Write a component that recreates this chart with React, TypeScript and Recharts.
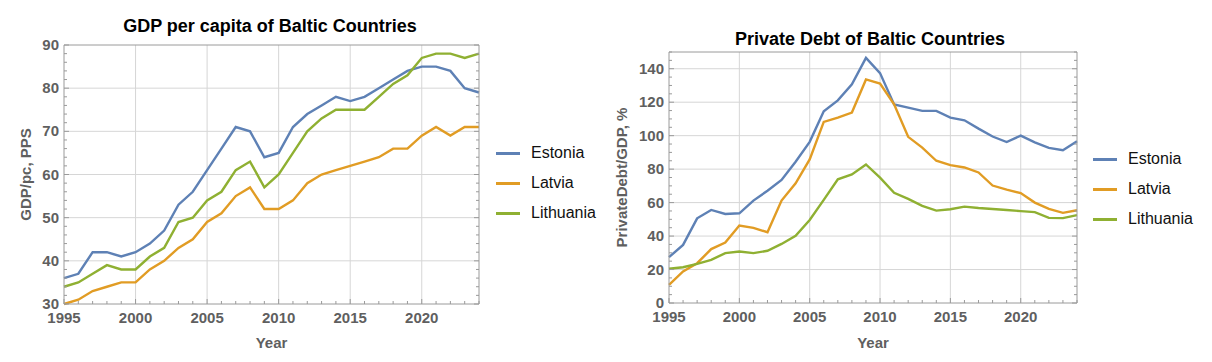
import React from 'react'
import { LineChart, Line, XAxis, YAxis, ReferenceLine, Legend } from 'recharts'

const years = [1995, 1996, 1997, 1998, 1999, 2000, 2001, 2002, 2003, 2004, 2005, 2006, 2007, 2008, 2009, 2010, 2011, 2012, 2013, 2014, 2015, 2016, 2017, 2018, 2019, 2020, 2021, 2022, 2023, 2024]
const xMajor = [1995, 2000, 2005, 2010, 2015, 2020]

// GDP per capita, PPS (EU = 100)
const gdpEstonia = [36, 37, 42, 42, 41, 42, 44, 47, 53, 56, 61, 66, 71, 70, 64, 65, 71, 74, 76, 78, 77, 78, 80, 82, 84, 85, 85, 84, 80, 79]
const gdpLatvia = [30, 31, 33, 34, 35, 35, 38, 40, 43, 45, 49, 51, 55, 57, 52, 52, 54, 58, 60, 61, 62, 63, 64, 66, 66, 69, 71, 69, 71, 71]
const gdpLithuania = [34, 35, 37, 39, 38, 38, 41, 43, 49, 50, 54, 56, 61, 63, 57, 60, 65, 70, 73, 75, 75, 75, 78, 81, 83, 87, 88, 88, 87, 88]
const gdpMajorY = [30, 40, 50, 60, 70, 80, 90]
const gdpMinorY = [30, 32, 34, 36, 38, 40, 42, 44, 46, 48, 50, 52, 54, 56, 58, 60, 62, 64, 66, 68, 70, 72, 74, 76, 78, 80, 82, 84, 86, 88, 90]

// Private debt, % of GDP
const debtEstonia = [27.4, 34.7, 50.6, 55.6, 53.2, 53.6, 61.2, 67.1, 73.5, 84.4, 96.3, 114.6, 121.1, 130.7, 146.5, 137.4, 118.7, 116.8, 114.8, 114.8, 110.8, 109.2, 104.2, 99.5, 96.2, 100, 96, 92.7, 91.3, 96.6]
const debtLatvia = [10.9, 18.9, 23.8, 32.2, 36.1, 46.3, 44.9, 42.3, 61.2, 71.5, 85.8, 108.2, 110.8, 113.8, 133.6, 131.1, 118.7, 99.3, 92.9, 85, 82.4, 81, 78, 70.2, 67.7, 65.7, 60, 56.2, 53.9, 55.4]
const debtLithuania = [20.5, 21.4, 23.4, 25.8, 29.8, 30.8, 29.8, 31.2, 35.3, 40.1, 49.6, 61.6, 73.9, 76.8, 82.8, 74.9, 65.9, 62.2, 58, 55.2, 56, 57.6, 56.8, 56.2, 55.6, 54.9, 54.3, 50.9, 50.7, 52.5]
const debtMajorY = [0, 20, 40, 60, 80, 100, 120, 140]
const debtMinorY = [0, 5, 10, 15, 20, 25, 30, 35, 40, 45, 50, 55, 60, 65, 70, 75, 80, 85, 90, 95, 100, 105, 110, 115, 120, 125, 130, 135, 140, 145, 150]

const COLORS = { Estonia: '#5E81B5', Latvia: '#E19C24', Lithuania: '#8FB032' }
const FRAME = '#9a9a9a'
const GRID = '#d6d6d6'
const LABEL = '#5f5f5f'
const FONT = '"Liberation Sans", Arial, Helvetica, sans-serif'

const gdpData = years.map((year, i) => ({
  year,
  Estonia: gdpEstonia[i],
  Latvia: gdpLatvia[i],
  Lithuania: gdpLithuania[i],
}))

const debtData = years.map((year, i) => ({
  year,
  Estonia: debtEstonia[i],
  Latvia: debtLatvia[i],
  Lithuania: debtLithuania[i],
}))

const tickText = { fill: LABEL, fontSize: 15, fontWeight: 700, fontFamily: FONT }

// frame ticks point inward, majors longer than minors
const makeTick = (side: string, majors: number[], showLabel: boolean) => (props: any) => {
  const { x, y, payload } = props
  const v = payload.value
  const len = majors.includes(v) ? 5 : 3
  let line = null
  let label = null
  if (side === 'bottom') {
    line = <line x1={x} x2={x} y1={y} y2={y - len} stroke={FRAME} />
    if (showLabel && majors.includes(v)) label = <text x={x} y={y + 19} textAnchor="middle" {...tickText}>{v}</text>
  } else if (side === 'top') {
    line = <line x1={x} x2={x} y1={y} y2={y + len} stroke={FRAME} />
  } else if (side === 'left') {
    line = <line x1={x} x2={x + len} y1={y} y2={y} stroke={FRAME} />
    if (showLabel && majors.includes(v)) label = <text x={x - 5} y={y + 5} textAnchor="end" {...tickText}>{v}</text>
  } else {
    line = <line x1={x} x2={x - len} y1={y} y2={y} stroke={FRAME} />
  }
  return <g>{line}{label}</g>
}

const renderLegend = (props: any) => {
  const { payload } = props
  return (
    <div style={{ fontFamily: FONT, fontSize: 16, color: '#111' }}>
      {payload.map((item: any) => (
        <div key={item.value} style={{ height: 30, display: 'flex', alignItems: 'center' }}>
          <div style={{ width: 24, height: 3, background: item.color, marginRight: 11 }} />
          <span>{item.value}</span>
        </div>
      ))}
    </div>
  )
}

interface PanelProps {
  data: any[]
  title: string
  titleTop: number
  yLabel: string
  yDomain: [number, number]
  yMajor: number[]
  yMinor: number[]
  margin: { top: number; right: number; bottom: number; left: number }
  yLabelDx: number
  yearOffset: number
  legendLeft: number
  legendTop: number
}

function Panel(p: PanelProps) {
  return (
    <div style={{ position: 'relative', width: 606, height: 362 }}>
      <div
        style={{
          position: 'absolute',
          left: 270,
          top: p.titleTop,
          transform: 'translateX(-50%)',
          whiteSpace: 'nowrap',
          fontFamily: FONT,
          fontWeight: 700,
          fontSize: 18,
          lineHeight: '18px',
          color: '#000',
        }}
      >
        {p.title}
      </div>
      <LineChart width={606} height={362} data={p.data} margin={p.margin}>
        <XAxis
          dataKey="year"
          type="number"
          domain={[1995, 2024]}
          ticks={years}
          interval={0}
          tickSize={0}
          tickMargin={0}
          tick={makeTick('bottom', xMajor, true)}
          stroke={FRAME}
          height={50}
          label={{ value: 'Year', position: 'insideBottom', offset: p.yearOffset, fill: LABEL, fontSize: 15, fontWeight: 700, fontFamily: FONT }}
        />
        <XAxis
          xAxisId="top"
          orientation="top"
          type="number"
          domain={[1995, 2024]}
          allowDataOverflow
          ticks={years}
          interval={0}
          tickSize={0}
          tickMargin={0}
          tick={makeTick('top', xMajor, false)}
          stroke={FRAME}
          height={1}
        />
        <YAxis
          type="number"
          domain={p.yDomain}
          ticks={p.yMinor}
          interval={0}
          tickSize={0}
          tickMargin={0}
          tick={makeTick('left', p.yMajor, true)}
          stroke={FRAME}
          width={56}
          label={{ value: p.yLabel, angle: -90, position: 'center', dx: p.yLabelDx, fill: LABEL, fontSize: 15, fontWeight: 700, fontFamily: FONT }}
        />
        <YAxis
          yAxisId="right"
          orientation="right"
          type="number"
          domain={p.yDomain}
          allowDataOverflow
          ticks={p.yMinor}
          interval={0}
          tickSize={0}
          tickMargin={0}
          tick={makeTick('right', p.yMajor, false)}
          stroke={FRAME}
          width={1}
        />
        {xMajor.filter((v) => v > 1995).map((v) => (
          <ReferenceLine key={'x' + v} x={v} stroke={GRID} />
        ))}
        {p.yMajor.filter((v) => v > p.yDomain[0] && v < p.yDomain[1]).map((v) => (
          <ReferenceLine key={'y' + v} y={v} stroke={GRID} />
        ))}
        <Line type="linear" dataKey="Estonia" name="Estonia" stroke={COLORS.Estonia} strokeWidth={2.4} dot={false} isAnimationActive={false} />
        <Line type="linear" dataKey="Latvia" name="Latvia" stroke={COLORS.Latvia} strokeWidth={2.4} dot={false} isAnimationActive={false} />
        <Line type="linear" dataKey="Lithuania" name="Lithuania" stroke={COLORS.Lithuania} strokeWidth={2.4} dot={false} isAnimationActive={false} />
        <Legend
          layout="vertical"
          align="center"
          verticalAlign="middle"
          wrapperStyle={{ left: p.legendLeft, top: p.legendTop, width: 120 }}
          content={renderLegend}
        />
      </LineChart>
    </div>
  )
}

export default function App() {
  return (
    <div style={{ position: 'absolute', left: 0, top: 0, width: 1212, height: 362, background: '#fff' }}>
      <div style={{ position: 'absolute', left: 0, top: 0 }}>
        <Panel
          data={gdpData}
          title="GDP per capita of Baltic Countries"
          titleTop={17}
          yLabel="GDP/pc, PPS"
          yDomain={[30, 90]}
          yMajor={gdpMajorY}
          yMinor={gdpMinorY}
          margin={{ top: 44, right: 126, bottom: 8, left: 8 }}
          yLabelDx={-10.5}
          yearOffset={6}
          legendLeft={496}
          legendTop={138}
        />
      </div>
      <div style={{ position: 'absolute', left: 600, top: 0 }}>
        <Panel
          data={debtData}
          title="Private Debt of Baltic Countries"
          titleTop={30}
          yLabel="PrivateDebt/GDP, %"
          yDomain={[0, 150]}
          yMajor={debtMajorY}
          yMinor={debtMinorY}
          margin={{ top: 51, right: 128, bottom: 9, left: 13 }}
          yLabelDx={-19.3}
          yearOffset={5}
          legendLeft={493}
          legendTop={144}
        />
      </div>
    </div>
  )
}
